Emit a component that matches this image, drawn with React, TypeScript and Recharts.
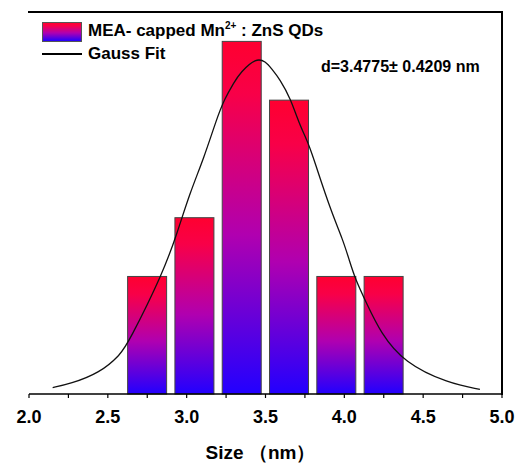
import { ComposedChart, Bar, Line, XAxis, YAxis } from "recharts";

// histogram bins (size, nm) and counts
const binCenters = [2.75, 3.05, 3.35, 3.65, 3.95, 4.25];
const binCounts = [2, 3, 6, 5, 2, 2];

// Gauss fit curve
const fitX = [2.15, 2.26, 2.45, 2.58, 2.63, 2.85, 2.94, 3.02, 3.11, 3.19, 3.24, 3.3, 3.34, 3.44, 3.5, 3.54, 3.59, 3.66, 3.71, 3.78, 3.82, 3.92, 3.99, 4.03, 4.07, 4.14, 4.23, 4.38, 4.66, 4.86];
const fitY = [0.11, 0.17, 0.36, 0.67, 0.87, 2.06, 2.74, 3.42, 4.02, 4.68, 5.02, 5.3, 5.47, 5.72, 5.66, 5.53, 5.36, 5.02, 4.62, 4.22, 3.88, 3.08, 2.63, 2.29, 1.95, 1.55, 1.04, 0.53, 0.18, 0.08];

const xTicks = [2, 2.25, 2.5, 2.75, 3, 3.25, 3.5, 3.75, 4, 4.25, 4.5, 4.75, 5];

const bars = binCenters.map((x, i) => ({ x, count: binCounts[i] }));
const fit = fitX.map((x, i) => ({ x, fit: fitY[i] }));

const FONT = "'Liberation Sans', Arial, sans-serif";
const BAR_W = 39;

// recharts gives a narrow band on a number axis, so re-centre each bar at a fixed width
const HistBar = (props: any) => {
  const { x, y, width, height } = props;
  if (!height) return null;
  const cx = x + width / 2;
  return <rect x={cx - BAR_W / 2} y={y} width={BAR_W} height={height} fill="url(#barGrad)" stroke="#444" strokeWidth={1} />;
};

export default function App() {
  return (
    <div style={{ position: "absolute", left: 0, top: 0, width: 521, height: 465, background: "#fff", fontFamily: FONT }}>
      <ComposedChart width={521} height={465} data={bars} margin={{ top: 12, right: 19, left: 29, bottom: 0 }}>
        <defs>
          <linearGradient id="barGrad" x1="0" y1="0" x2="0" y2="1">
            <stop offset="0%" stopColor="#ff0030" />
            <stop offset="15%" stopColor="#f80048" />
            <stop offset="55%" stopColor="#b000b0" />
            <stop offset="100%" stopColor="#2200ff" />
          </linearGradient>
        </defs>
        <XAxis
          dataKey="x"
          type="number"
          domain={[2, 5]}
          ticks={xTicks}
          allowDataOverflow
          height={71}
          tickSize={4}
          tickMargin={12}
          axisLine={{ stroke: "#000", strokeWidth: 1.6 }}
          tickLine={{ stroke: "#000", strokeWidth: 1.2 }}
          tick={{ fill: "#000", fontSize: 18, fontWeight: 700, fontFamily: FONT }}
          tickFormatter={(v: number) => (Math.round(v * 100) % 50 === 0 ? v.toFixed(1) : "")}
        />
        <YAxis domain={[0, 6.5]} width={0} tick={false} tickLine={false} axisLine={{ stroke: "#000", strokeWidth: 1.6 }} />
        <Bar dataKey="count" shape={HistBar} isAnimationActive={false} />
        <Line data={fit} dataKey="fit" type="basis" stroke="#111" strokeWidth={1.3} dot={false} isAnimationActive={false} />
      </ComposedChart>

      {/* top and right frame lines */}
      <div style={{ position: "absolute", left: 28, top: 11, width: 475, height: 1.6, background: "#000" }} />
      <div style={{ position: "absolute", left: 501.4, top: 11, width: 1.6, height: 384, background: "#000" }} />

      {/* legend */}
      <div style={{ position: "absolute", left: 42, top: 22, width: 40, height: 20, background: "linear-gradient(#ff0030, #f80048 15%, #b000b0 55%, #2200ff)", border: "1px solid #555", boxSizing: "border-box" }} />
      <div style={{ position: "absolute", left: 88, top: 20, fontSize: 17, fontWeight: 700, color: "#000", whiteSpace: "nowrap", lineHeight: "22px" }}>
        MEA- capped Mn<sup style={{ fontSize: 10, verticalAlign: "7px", lineHeight: 0 }}>2+</sup> : ZnS QDs
      </div>
      <div style={{ position: "absolute", left: 42, top: 53, width: 40, height: 1.5, background: "#000" }} />
      <div style={{ position: "absolute", left: 88, top: 43, fontSize: 17, fontWeight: 700, color: "#000", whiteSpace: "nowrap", lineHeight: "22px" }}>
        Gauss Fit
      </div>

      {/* annotation */}
      <div style={{ position: "absolute", left: 321, top: 56, fontSize: 16, fontWeight: 700, color: "#000", whiteSpace: "nowrap", lineHeight: "22px" }}>
        d=3.4775± 0.4209 nm
      </div>

      {/* x axis title */}
      <div style={{ position: "absolute", left: 0, width: 521, top: 440, textAlign: "center", fontSize: 19, fontWeight: 700, color: "#000", whiteSpace: "nowrap", lineHeight: "26px" }}>
        Size （nm）
      </div>
    </div>
  );
}
